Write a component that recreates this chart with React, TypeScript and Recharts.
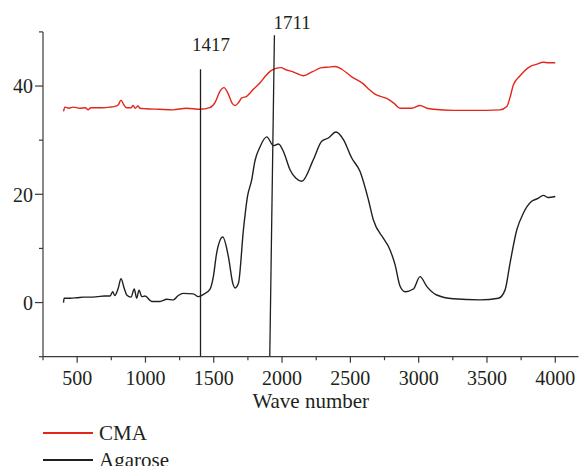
import { LineChart, Line, XAxis, YAxis, ReferenceLine, ReferenceDot, Legend } from 'recharts';

const FONT = '"Liberation Serif", "Times New Roman", serif';
const INK = '#231f20';
const AXIS = '#3a3a3a';
const RED = '#e3261b';

// axis ticks
const xTicks = [250, 500, 750, 1000, 1250, 1500, 1750, 2000, 2250, 2500, 2750, 3000, 3250, 3500, 3750, 4000];
const xLabelTicks = [500, 1000, 1500, 2000, 2500, 3000, 3500, 4000];
const yTicks = [-10, 0, 10, 20, 30, 40, 50];
const yLabelTicks = [0, 20, 40];

const seriesNames = ['CMA', 'Agarose'];
const seriesColors = [RED, INK];

// CMA spectrum (red)
const cmaWave = [
  400, 410, 440, 470, 520, 560, 580, 600, 680, 740, 770, 800, 821, 840, 860, 895, 909, 925, 945, 960,
  1000, 1100, 1200, 1300, 1400, 1470, 1510, 1545, 1575, 1605, 1635, 1656, 1680, 1705, 1741, 1790, 1839,
  1880, 1912, 1950, 1992, 2030, 2071, 2110, 2156, 2220, 2290, 2340, 2388, 2437, 2510, 2595, 2640, 2680,
  2766, 2820, 2864, 2949, 3010, 3060, 3107, 3254, 3400, 3596, 3645, 3670, 3693, 3742, 3815, 3860, 3913,
  3950, 4000,
];
const cmaValue = [
  35.3, 36.1, 35.9, 36.1, 35.9, 36.0, 35.6, 36.0, 36.0, 36.1, 36.2, 36.5, 37.4, 36.6, 36.0, 36.0, 36.4, 35.9, 36.3, 35.9,
  35.8, 35.7, 35.6, 35.9, 35.7, 36.0, 37.0, 39.0, 39.7, 38.6, 36.8, 36.4, 36.9, 37.8, 38.1, 39.4, 40.6,
  41.9, 42.7, 43.2, 43.4, 43.0, 42.7, 42.3, 41.9, 42.6, 43.4, 43.5, 43.6, 43.1, 41.7, 40.4, 39.3, 38.5,
  37.7, 36.8, 35.9, 35.9, 36.4, 35.9, 35.7, 35.5, 35.5, 35.6, 36.2, 38.0, 40.2, 41.9, 43.6, 44.0, 44.4,
  44.3, 44.3,
];

// Agarose spectrum (black)
const agaWave = [
  400, 405, 450, 500, 545, 600, 650, 700, 740, 760, 775, 800, 821, 845, 863, 894, 918, 936, 953, 973,
  997, 1046, 1107, 1156, 1204, 1240, 1277, 1350, 1387, 1424, 1473, 1497, 1521, 1566, 1607, 1640, 1656,
  1681, 1717, 1747, 1778, 1800, 1839, 1888, 1937, 1974, 2010, 2059, 2100, 2144, 2229, 2290, 2339, 2395,
  2449, 2510, 2571, 2632, 2668, 2741, 2778, 2827, 2864, 2900, 2961, 3010, 3059, 3132, 3254, 3449, 3584,
  3632, 3669, 3718, 3766, 3827, 3870, 3913, 3949, 4000,
];
const agaValue = [
  0.0, 0.8, 0.8, 0.9, 1.0, 1.0, 1.1, 1.2, 1.2, 2.0, 1.3, 2.6, 4.4, 2.6, 1.4, 1.0, 2.5, 0.8, 2.3, 1.1,
  1.2, 0.2, 0.2, 0.6, 0.5, 1.3, 1.7, 1.6, 1.1, 1.5, 2.5, 4.8, 9.1, 12.1, 8.5, 3.5, 2.7,
  3.6, 13.4, 19.6, 22.7, 26.0, 28.8, 30.6, 29.0, 29.3, 27.9, 24.5, 23.0, 22.4, 26.4, 29.8, 30.4, 31.5,
  30.1, 26.7, 24.2, 19.0, 15.3, 11.9, 10.4, 7.0, 3.0, 2.0, 2.5, 4.8, 3.0, 1.4, 0.7, 0.5, 0.8,
  2.3, 7.3, 13.4, 16.5, 18.7, 19.2, 19.8, 19.4, 19.6,
];

// marked peaks: label, line top / bottom points, label anchor
const peakNames = ['1417', '1711'];
const peakTop = [[1403, 43.1], [1944, 49.4]];
const peakBottom = [[1403, -10], [1910, -10]];
const peakLabelAt = [[1480, 47.8], [2073, 51.7]];

const cmaData = cmaWave.map((w, i) => ({ w, v: cmaValue[i] }));
const agaData = agaWave.map((w, i) => ({ w, v: agaValue[i] }));

function XTick({ x, y, payload }: any) {
  const major = xLabelTicks.includes(payload.value);
  return (
    <g>
      <line x1={x} y1={y} x2={x} y2={y + (major ? 6 : 3.5)} stroke={AXIS} strokeWidth={1.2} />
      {major && (
        <text x={x} y={y + 28} textAnchor="middle" fill={INK} fontSize={20} fontFamily={FONT}>
          {payload.value}
        </text>
      )}
    </g>
  );
}

function YTick({ x, y, payload }: any) {
  const major = yLabelTicks.includes(payload.value);
  return (
    <g>
      <line x1={x - (major ? 8 : 4)} y1={y} x2={x} y2={y} stroke={AXIS} strokeWidth={1.2} />
      {major && (
        <text x={x - 10} y={y} dy="0.36em" textAnchor="end" fill={INK} fontSize={20} fontFamily={FONT}>
          {payload.value}
        </text>
      )}
    </g>
  );
}

// legend drawn in the reference's order (CMA first)
function LegendBox() {
  return (
    <div style={{ paddingLeft: 43, height: 54, fontFamily: FONT, fontSize: 21, color: INK }}>
      {seriesNames.map((name, i) => (
        <div key={name} style={{ display: 'flex', alignItems: 'center', height: 27 }}>
          <span style={{ display: 'inline-block', width: 50, height: 1.4, background: seriesColors[i], marginRight: 6 }} />
          <span>{name}</span>
        </div>
      ))}
    </div>
  );
}

export default function App() {
  return (
    <div style={{ position: 'absolute', left: 0, top: 0, width: 580, height: 466, overflow: 'hidden', background: '#fff' }}>
      <LineChart width={580} height={480} margin={{ top: 31.9, right: 1.5, bottom: 6.5, left: 0 }}>
        <XAxis
          type="number"
          dataKey="w"
          domain={[250, 4170]}
          ticks={xTicks}
          interval={0}
          allowDataOverflow
          stroke={AXIS}
          strokeWidth={1.2}
          tickSize={0}
          tickMargin={0}
          tickLine={false}
          tick={<XTick />}
          height={62.8}
          label={{ value: 'Wave number', position: 'insideBottom', offset: 11.5, fill: INK, fontSize: 21, fontFamily: FONT }}
        />
        <YAxis
          type="number"
          domain={[-10, 50]}
          ticks={yTicks}
          interval={0}
          allowDataOverflow
          stroke={AXIS}
          strokeWidth={1.2}
          tickSize={0}
          tickMargin={0}
          tickLine={false}
          tick={<YTick />}
          width={43}
        />
        <Legend align="left" verticalAlign="bottom" content={<LegendBox />} />
        <Line
          data={cmaData}
          dataKey="v"
          name={seriesNames[0]}
          type="monotone"
          stroke={seriesColors[0]}
          strokeWidth={1.4}
          dot={false}
          isAnimationActive={false}
        />
        <Line
          data={agaData}
          dataKey="v"
          name={seriesNames[1]}
          type="monotone"
          stroke={seriesColors[1]}
          strokeWidth={1.4}
          dot={false}
          isAnimationActive={false}
        />
        {peakNames.map((name, i) => (
          <ReferenceLine
            key={name}
            segment={[
              { x: peakTop[i][0], y: peakTop[i][1] },
              { x: peakBottom[i][0], y: peakBottom[i][1] },
            ]}
            stroke={INK}
            strokeWidth={1.3}
            ifOverflow="visible"
          />
        ))}
        {peakNames.map((name, i) => (
          <ReferenceDot
            key={`lbl-${name}`}
            x={peakLabelAt[i][0]}
            y={peakLabelAt[i][1]}
            r={0}
            fill="none"
            stroke="none"
            ifOverflow="visible"
            label={{ value: name, position: 'center', fill: INK, fontSize: 19, fontFamily: FONT }}
          />
        ))}
      </LineChart>
    </div>
  );
}
